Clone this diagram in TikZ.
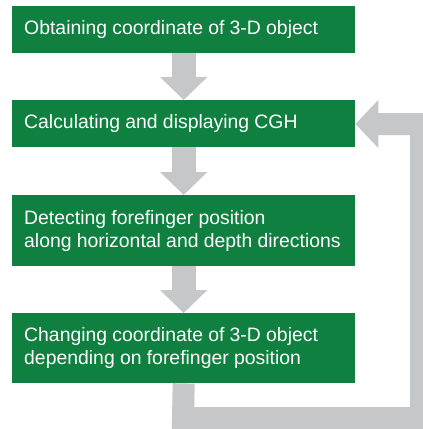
\documentclass[tikz,border=0pt]{standalone}
\usepackage{fontspec}
\setmainfont{Liberation Sans}
\usetikzlibrary{arrows.meta}
\pgfdeclarelayer{background}
\pgfsetlayers{background,main}
\definecolor{boxgreen}{HTML}{0F8040}
\definecolor{flowgray}{HTML}{C6C7C9}
\newcommand{\stepfont}{\fontsize{19.4pt}{23pt}\selectfont}
\newcommand{\stepspacing}{\spaceskip=0.27em\relax\xspaceskip=0.27em\relax\hyphenpenalty=10000\relax}
\tikzset{
  stepbox/.style={draw=none, fill=boxgreen, text=white, anchor=north west,
    minimum width=343pt, text width=319pt, inner xsep=12pt, inner ysep=0pt,
    align=left, font=\stepfont, execute at begin node=\stepspacing},
  flow/.style={draw=flowgray, line width=24pt,
    -{Triangle[width=46pt,length=23pt]}},
  feedback/.style={draw=flowgray, line width=22pt, line join=miter,
    -{Triangle[width=47pt,length=23pt]}}
}
\begin{document}
\begin{tikzpicture}[x=1pt,y=-1pt]
\clip (0,0) rectangle (423,429);
\node[stepbox, minimum height=47pt] (b1) at (12,6) {Obtaining coordinate of 3-D object};
\node[stepbox, minimum height=47pt] (b2) at (12,100) {Calculating and displaying CGH};
\node[stepbox, minimum height=71pt] (b3) at (12,195) {Detecting forefinger position\\along horizontal and depth directions};
\node[stepbox, minimum height=70pt] (b4) at (12,313) {Changing coordinate of 3-D object\\depending on forefinger position};
\coordinate (fb1) at (183,418);
\coordinate (fb2) at (421,418);
\coordinate (fb3) at (421,124);
\begin{pgfonlayer}{background}
\fill[white] (0,0) rectangle (423,429);
\draw[flow] (b1.south) -- (b2.north);
\draw[flow] (b2.south) -- (b3.north);
\draw[flow] (b3.south) -- (b4.north);
\draw[feedback] (b4.south) -- (fb1) -- (fb2) -- (fb3) -- (b2.east |- fb3);
\end{pgfonlayer}
\end{tikzpicture}
\end{document}
